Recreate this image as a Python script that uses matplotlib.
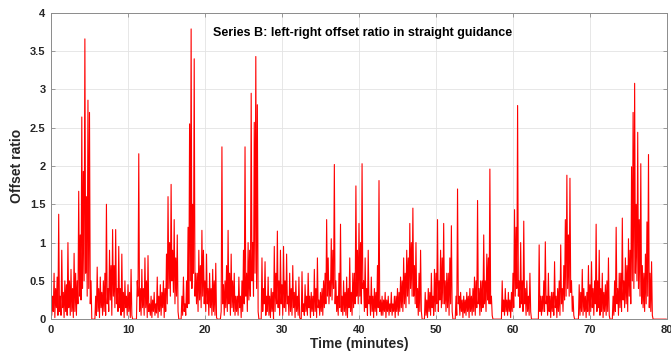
import numpy as np
import matplotlib
matplotlib.use("Agg")
import matplotlib.pyplot as plt

plt.rcParams['font.family'] = ['Liberation Sans', 'DejaVu Sans']
plt.rcParams['font.weight'] = 'bold'

# offset ratio, one row per minute
# local tops, at m+0.0, 0.2, 0.4, 0.6, 0.8
offset_tops = [
    [0.45, 0.30, 0.60, 0.40, 0.55],  # 0
    [1.37, 0.30, 0.90, 0.35, 0.50],
    [0.45, 1.00, 0.50, 0.65, 0.40],
    [0.86, 0.60, 0.50, 1.67, 1.10],
    [2.64, 1.93, 3.66, 1.60, 2.86],
    [2.70, 0.50, 0.00, 0.00, 0.30],  # 5
    [0.68, 0.40, 0.55, 0.35, 0.50],
    [0.60, 1.50, 0.40, 0.90, 0.70],
    [1.17, 0.70, 1.17, 0.40, 0.95],
    [0.40, 0.85, 0.35, 0.50, 0.30],
    [0.45, 0.35, 0.65, 0.00, 0.00],  # 10
    [0.00, 0.50, 2.16, 0.40, 0.65],
    [0.40, 0.80, 0.50, 0.83, 0.20],
    [0.30, 0.25, 0.35, 0.20, 0.55],
    [0.30, 0.45, 0.35, 0.50, 0.40],
    [0.85, 1.60, 1.00, 1.76, 0.90],  # 15
    [1.30, 0.80, 1.10, 0.00, 0.00],
    [0.30, 0.55, 0.20, 0.50, 1.20],
    [2.55, 3.79, 1.50, 3.40, 0.60],
    [0.60, 0.90, 0.70, 1.16, 0.90],
    [0.50, 0.85, 0.40, 0.60, 0.40],  # 20
    [0.65, 0.50, 0.73, 0.00, 0.00],
    [0.00, 2.25, 0.45, 0.50, 0.70],
    [1.16, 0.60, 0.85, 0.50, 0.60],
    [0.30, 0.30, 0.55, 0.30, 0.50],
    [0.90, 2.25, 0.60, 1.00, 0.90],  # 25
    [2.95, 1.00, 2.57, 3.43, 2.80],
    [0.00, 0.00, 0.80, 0.40, 0.75],
    [0.30, 0.55, 0.30, 0.40, 0.35],
    [0.95, 0.60, 1.15, 0.50, 0.90],
    [0.45, 0.95, 0.50, 0.85, 0.30],  # 30
    [0.60, 0.40, 0.70, 0.35, 0.50],
    [0.30, 0.55, 0.00, 0.62, 0.20],
    [0.45, 0.30, 0.60, 0.30, 0.35],
    [0.30, 0.65, 0.40, 0.80, 0.25],
    [0.35, 0.40, 0.50, 0.60, 1.30],  # 35
    [0.80, 0.50, 1.05, 0.90, 2.02],
    [0.50, 0.30, 0.60, 1.24, 0.30],
    [0.50, 0.35, 0.55, 0.40, 0.80],
    [0.35, 0.60, 0.60, 1.74, 0.90],
    [1.25, 1.00, 2.03, 0.50, 0.80],  # 40
    [0.40, 0.90, 0.30, 0.55, 0.30],
    [0.40, 0.35, 0.70, 1.81, 0.25],
    [0.30, 0.25, 0.35, 0.25, 0.30],
    [0.20, 0.35, 0.20, 0.30, 0.30],
    [0.40, 0.35, 0.55, 0.50, 0.80],  # 45
    [0.60, 0.90, 0.80, 1.25, 1.00],
    [1.45, 0.70, 1.00, 0.40, 0.60],
    [0.90, 0.00, 0.00, 0.35, 0.25],
    [0.40, 0.35, 0.60, 0.30, 0.65],
    [0.60, 1.30, 0.50, 0.90, 0.80],  # 50
    [1.25, 0.50, 0.60, 0.60, 0.80],
    [1.22, 0.00, 0.00, 0.30, 1.70],
    [0.30, 0.35, 0.25, 0.30, 0.25],
    [0.35, 0.30, 0.40, 0.30, 0.40],
    [0.55, 0.50, 1.55, 0.40, 0.50],  # 55
    [0.50, 1.10, 0.50, 0.85, 0.80],
    [1.96, 0.30, 0.00, 0.00, 0.00],
    [0.00, 0.00, 0.00, 0.50, 0.25],
    [0.40, 0.25, 0.35, 0.25, 0.35],
    [0.60, 1.43, 1.20, 2.79, 0.50],  # 60
    [1.00, 0.50, 1.28, 0.40, 0.50],
    [0.30, 0.60, 0.00, 0.00, 0.00],
    [0.00, 0.00, 0.97, 0.30, 0.30],
    [0.50, 1.01, 0.30, 0.60, 0.30],
    [0.35, 0.35, 0.75, 0.30, 0.40],  # 65
    [0.50, 0.97, 0.40, 0.70, 1.30],
    [1.88, 1.10, 1.84, 0.50, 0.30],
    [0.00, 0.00, 0.00, 0.45, 0.35],
    [0.65, 0.40, 0.30, 0.35, 0.70],
    [0.45, 0.75, 0.40, 0.50, 1.24],  # 70
    [0.50, 0.90, 0.40, 0.60, 0.35],
    [0.45, 0.50, 0.80, 0.00, 0.00],
    [0.30, 0.50, 1.20, 0.40, 0.60],
    [0.60, 1.32, 0.50, 0.80, 0.70],
    [1.05, 0.90, 1.99, 2.70, 3.08],  # 75
    [1.50, 2.44, 1.30, 2.03, 0.70],
    [0.60, 0.85, 1.27, 2.15, 0.60],
    [0.75, 0.00, 0.00, 0.00, 0.00],
    [0.00, 0.00, 0.00, 0.00, 0.00],
]
# dips between the tops, at m+0.1, 0.3, 0.5, 0.7, 0.9
offset_dips = [
    [0.05, 0.10, 0.02, 0.15, 0.05],  # 0
    [0.10, 0.05, 0.15, 0.02, 0.10],
    [0.05, 0.15, 0.05, 0.10, 0.02],
    [0.10, 0.05, 0.20, 0.30, 0.25],
    [0.40, 0.50, 0.60, 0.30, 0.40],
    [0.20, 0.00, 0.00, 0.00, 0.05],  # 5
    [0.10, 0.02, 0.15, 0.05, 0.10],
    [0.05, 0.20, 0.10, 0.25, 0.05],
    [0.30, 0.15, 0.20, 0.10, 0.15],
    [0.05, 0.10, 0.02, 0.15, 0.05],
    [0.10, 0.02, 0.05, 0.00, 0.00],  # 10
    [0.00, 0.30, 0.10, 0.05, 0.15],
    [0.05, 0.15, 0.02, 0.10, 0.05],
    [0.02, 0.10, 0.05, 0.08, 0.02],
    [0.10, 0.05, 0.15, 0.02, 0.10],
    [0.20, 0.40, 0.30, 0.50, 0.35],  # 15
    [0.20, 0.30, 0.10, 0.00, 0.00],
    [0.05, 0.10, 0.05, 0.15, 0.20],
    [0.50, 0.40, 0.60, 0.30, 0.20],
    [0.10, 0.25, 0.15, 0.30, 0.20],
    [0.10, 0.20, 0.05, 0.15, 0.05],  # 20
    [0.10, 0.05, 0.02, 0.00, 0.00],
    [0.10, 0.20, 0.05, 0.15, 0.10],
    [0.20, 0.05, 0.15, 0.10, 0.05],
    [0.10, 0.05, 0.15, 0.02, 0.10],
    [0.20, 0.30, 0.10, 0.25, 0.30],  # 25
    [0.50, 0.30, 0.60, 0.40, 0.10],
    [0.00, 0.00, 0.10, 0.20, 0.05],
    [0.10, 0.05, 0.02, 0.10, 0.00],
    [0.10, 0.20, 0.15, 0.05, 0.20],
    [0.05, 0.15, 0.10, 0.20, 0.05],  # 30
    [0.10, 0.05, 0.15, 0.02, 0.10],
    [0.05, 0.02, 0.00, 0.10, 0.05],
    [0.10, 0.05, 0.15, 0.02, 0.10],
    [0.05, 0.10, 0.02, 0.15, 0.05],
    [0.10, 0.05, 0.15, 0.20, 0.30],  # 35
    [0.20, 0.30, 0.25, 0.40, 0.20],
    [0.10, 0.05, 0.15, 0.10, 0.05],
    [0.10, 0.05, 0.02, 0.15, 0.10],
    [0.05, 0.15, 0.20, 0.30, 0.20],
    [0.30, 0.20, 0.40, 0.10, 0.15],  # 40
    [0.05, 0.20, 0.05, 0.10, 0.02],
    [0.10, 0.05, 0.15, 0.10, 0.05],
    [0.05, 0.10, 0.02, 0.10, 0.05],
    [0.10, 0.05, 0.10, 0.02, 0.10],
    [0.05, 0.10, 0.15, 0.10, 0.20],  # 45
    [0.15, 0.30, 0.20, 0.40, 0.30],
    [0.30, 0.20, 0.15, 0.05, 0.10],
    [0.10, 0.00, 0.00, 0.05, 0.02],
    [0.10, 0.05, 0.15, 0.05, 0.10],
    [0.20, 0.10, 0.25, 0.15, 0.20],  # 50
    [0.20, 0.10, 0.15, 0.05, 0.20],
    [0.10, 0.00, 0.00, 0.05, 0.20],
    [0.05, 0.10, 0.02, 0.08, 0.05],
    [0.10, 0.02, 0.10, 0.05, 0.10],
    [0.05, 0.15, 0.20, 0.05, 0.10],  # 55
    [0.15, 0.20, 0.10, 0.25, 0.20],
    [0.20, 0.05, 0.00, 0.00, 0.00],
    [0.00, 0.00, 0.00, 0.10, 0.05],
    [0.10, 0.05, 0.10, 0.02, 0.10],
    [0.15, 0.30, 0.40, 0.30, 0.15],  # 60
    [0.20, 0.10, 0.20, 0.05, 0.10],
    [0.05, 0.10, 0.00, 0.00, 0.00],
    [0.00, 0.00, 0.10, 0.05, 0.10],
    [0.10, 0.20, 0.05, 0.10, 0.02],
    [0.10, 0.05, 0.15, 0.02, 0.10],  # 65
    [0.05, 0.20, 0.10, 0.25, 0.30],
    [0.40, 0.30, 0.35, 0.10, 0.05],
    [0.00, 0.00, 0.00, 0.05, 0.10],
    [0.05, 0.10, 0.02, 0.10, 0.05],
    [0.10, 0.15, 0.05, 0.20, 0.10],  # 70
    [0.15, 0.05, 0.10, 0.02, 0.10],
    [0.05, 0.10, 0.05, 0.00, 0.00],
    [0.05, 0.10, 0.20, 0.05, 0.15],
    [0.10, 0.25, 0.15, 0.20, 0.10],
    [0.30, 0.20, 0.50, 0.40, 0.60],  # 75
    [0.50, 0.40, 0.30, 0.20, 0.15],
    [0.10, 0.20, 0.30, 0.15, 0.10],
    [0.05, 0.00, 0.00, 0.00, 0.00],
    [0.00, 0.00, 0.00, 0.00, 0.00],
]

# interleave tops and dips -> one sample every 0.1 min
offset = np.column_stack([np.ravel(offset_tops), np.ravel(offset_dips)]).ravel()
time_min = np.arange(len(offset)) * 0.1

fig = plt.figure(figsize=(6.71, 3.57), dpi=100)
ax = fig.add_axes([0.076, 0.106, 0.918, 0.858])

ax.plot(time_min, offset, color='#ff0000', linewidth=0.8)

ax.set_xlim(0, 80)
ax.set_ylim(0, 4)
ax.set_xticks(np.arange(0, 81, 10))
ax.set_yticks(np.arange(0, 4.01, 0.5))
ax.set_yticklabels(['0', '0.5', '1', '1.5', '2', '2.5', '3', '3.5', '4'])
ax.grid(True, color='#e3e3e3', linewidth=0.6)
ax.set_axisbelow(True)
for s in ax.spines.values():
    s.set_color('#8c8c8c')
    s.set_linewidth(0.7)
ax.tick_params(direction='in', top=True, right=True, length=3, width=0.6,
               color='#8c8c8c', labelsize=8, labelcolor='#262626', pad=4)

ax.set_xlabel('Time (minutes)', fontsize=10, fontweight='bold', color='#262626', labelpad=2)
ax.set_ylabel('Offset ratio', fontsize=10, fontweight='bold', color='#262626', labelpad=4)
ax.text(21.0, 3.74, 'Series B: left-right offset ratio in straight guidance',
        fontsize=9, fontweight='bold', ha='left', va='center', color='black')

fig.savefig('out.png', dpi=100)
